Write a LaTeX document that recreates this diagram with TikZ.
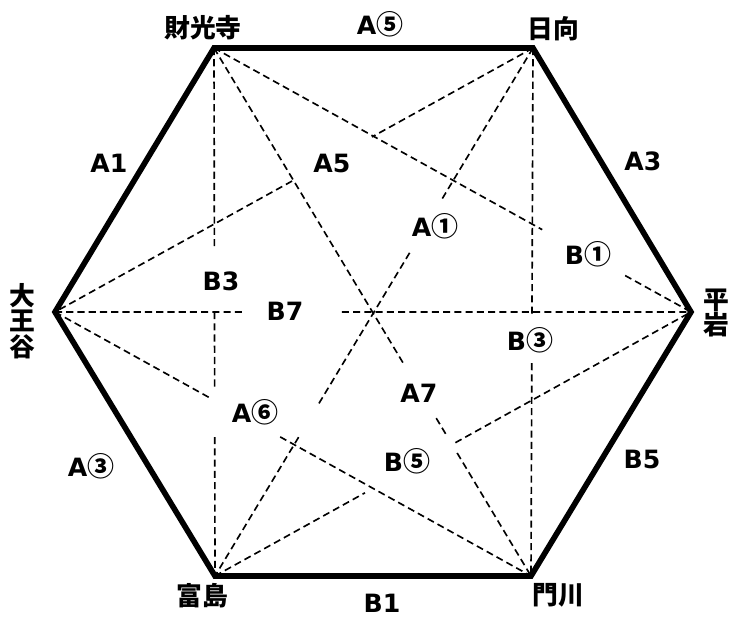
\documentclass[tikz,border=0pt]{standalone}
\usepackage{fontspec}
\setmainfont{Noto Sans CJK JP}
\newfontfamily\latinfont{DejaVu Sans}
\usetikzlibrary{calc}
\newcommand\maru[1]{{\rmfamily\bfseries\fontsize{23}{23}\selectfont #1}}

\begin{document}
\begin{tikzpicture}[
    x=0.03cm, y=-0.03cm,
    edgeline/.style={line width=4.8pt, line join=miter},
    matchline/.style={line width=1.4pt, dash pattern=on 6pt off 3.6pt},
    team/.style={font=\bfseries\fontsize{22}{22}\selectfont, align=center, inner sep=0pt},
    game/.style={font=\latinfont\bfseries\fontsize{21.5}{21.5}\selectfont, inner sep=0pt}
]
\useasboundingbox (0,0) rectangle (729,617);

\coordinate (zaikoji) at (214,48);
\coordinate (hyuga) at (533,48);
\coordinate (hiraiwa) at (691,312);
\coordinate (kadogawa) at (531,576);
\coordinate (tomishima) at (215,576);
\coordinate (daioji) at (55,312);

% diagonals, broken where the labels sit
\draw[matchline] (zaikoji) -- ($(zaikoji)!0.379!(tomishima)$)
    ($(zaikoji)!0.5!(tomishima)$) -- ($(zaikoji)!0.642!(tomishima)$)
    ($(zaikoji)!0.737!(tomishima)$) -- (tomishima);
\draw[matchline] (daioji) -- ($(daioji)!0.299!(hiraiwa)$)
    ($(daioji)!0.451!(hiraiwa)$) -- (hiraiwa);
\draw[matchline] (hyuga) -- ($(hyuga)!0.504!(kadogawa)$)
    ($(hyuga)!0.597!(kadogawa)$) -- (kadogawa);
\draw[matchline] (zaikoji) -- ($(zaikoji)!0.688!(hiraiwa)$)
    ($(zaikoji)!0.862!(hiraiwa)$) -- (hiraiwa);
\draw[matchline] (zaikoji) -- ($(zaikoji)!0.597!(kadogawa)$)
    ($(zaikoji)!0.701!(kadogawa)$) -- ($(zaikoji)!0.737!(kadogawa)$)
    ($(zaikoji)!0.767!(kadogawa)$) -- (kadogawa);
\draw[matchline] (hyuga) -- ($(hyuga)!0.337!(daioji)$)
    ($(hyuga)!0.504!(daioji)$) -- (daioji);
\draw[matchline] (hyuga) -- ($(hyuga)!0.288!(tomishima)$)
    ($(hyuga)!0.388!(tomishima)$) -- ($(hyuga)!0.676!(tomishima)$)
    ($(hyuga)!0.737!(tomishima)$) -- (tomishima);
\draw[matchline] (daioji) -- ($(daioji)!0.326!(kadogawa)$)
    ($(daioji)!0.473!(kadogawa)$) -- (kadogawa);
\draw[matchline] (tomishima) -- ($(tomishima)!0.315!(hiraiwa)$)
    ($(tomishima)!0.505!(hiraiwa)$) -- (hiraiwa);

\draw[edgeline] (zaikoji) -- (hyuga) -- (hiraiwa) -- (kadogawa) -- (tomishima) -- (daioji) -- cycle;

% teams
\node[team] (zaikojiname) at (203,28) {財光寺};
\node[team] (hyuganame) at (553,29) {日向};
\node[team] (hiraiwaname) at (716,313) {平\\岩};
\node[team] (daiojiname) at (22,321) {大\\王\\谷};
\node[team] (tomishimaname) at (202,596) {富島};
\node[team] (kadogawaname) at (558,595) {門川};

% games on the sides
\node[game] (gameAv) at (380,24) {A\maru{⑤}};
\node[game] (gameAone) at (109,163) {A1};
\node[game] (gameAthree) at (643,161) {A3};
\node[game] (gameBfive) at (642,459) {B5};
\node[game] (gameBone) at (382,603) {B1};
\node[game] (gameAiii) at (91,466) {A\maru{③}};

% games on the diagonals
\node[game] (gameAfive) at (332,163) {A5};
\node[game] (gameBthree) at (221,281) {B3};
\node[game] (gameBseven) at (285,311) {B7};
\node[game] (gameAi) at (435,226) {A\maru{①}};
\node[game] (gameBi) at (588,254) {B\maru{①}};
\node[game] (gameBiii) at (530,340) {B\maru{③}};
\node[game] (gameAvi) at (255,412) {A\maru{⑥}};
\node[game] (gameAseven) at (419,393) {A7};
\node[game] (gameBv) at (407,461) {B\maru{⑤}};

\end{tikzpicture}
\end{document}
